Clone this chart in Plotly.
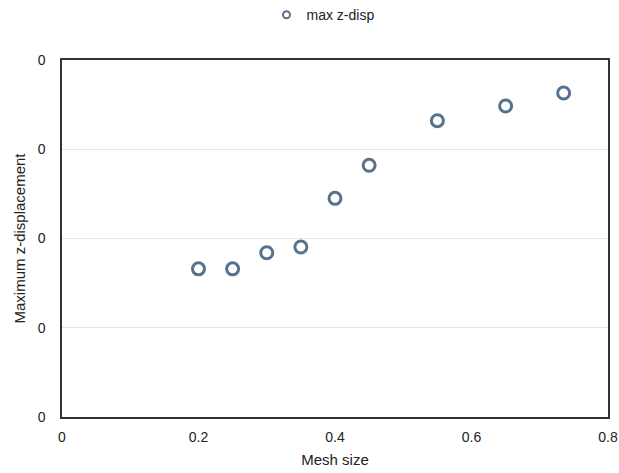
import plotly.graph_objects as go

mesh_size = [0.20, 0.25, 0.30, 0.35, 0.40, 0.45, 0.55, 0.65, 0.735]
max_z_disp = [0.166, 0.166, 0.184, 0.1905, 0.245, 0.282, 0.332, 0.3485, 0.363]
series_name = "max z-disp"
y_ticks = [0, 0.1, 0.2, 0.3, 0.4]
x_ticks = [0, 0.2, 0.4, 0.6, 0.8]

color = "#56728f"
font = "Liberation Sans, Arial, Helvetica, sans-serif"

fig = go.Figure()
fig.add_trace(go.Scatter(
    x=mesh_size, y=max_z_disp, mode="markers", name=series_name, showlegend=False,
    marker=dict(symbol="circle-open", size=12, color=color, line=dict(width=3, color=color)),
))
# legend entry with the smaller legend symbol
fig.add_trace(go.Scatter(
    x=[None], y=[None], mode="markers", name=series_name, showlegend=True,
    marker=dict(symbol="circle-open", size=7, color=color, line=dict(width=2, color=color)),
))

fig.update_layout(
    width=619, height=473,
    margin=dict(l=62, r=11, t=60, b=56, autoexpand=False),
    paper_bgcolor="white", plot_bgcolor="white",
    font=dict(family=font, size=14, color="#222"),
    showlegend=True,
    legend=dict(orientation="h", x=0.478, xanchor="center", yref="container", y=0.968, yanchor="middle",
                font=dict(size=14)),
    xaxis=dict(range=[0, 0.8], tickvals=x_ticks, ticktext=[f"{v:g}" for v in x_ticks],
               automargin=False,
               showgrid=False, zeroline=False, showline=True, linecolor="#333", linewidth=1.5,
               mirror=True, ticks="outside", ticklen=6, tickcolor="rgba(0,0,0,0)",
               title=dict(text="Mesh size", font=dict(size=15), standoff=11)),
    yaxis=dict(range=[0, 0.4], tickvals=y_ticks, tickformat=".0f", automargin=False,
               showgrid=True, gridcolor="#e6e6e6", gridwidth=1, zeroline=False,
               showline=True, linecolor="#333", linewidth=1.5, mirror=True,
               ticks="outside", ticklen=12, tickcolor="rgba(0,0,0,0)",
               title=dict(text="Maximum z-displacement", font=dict(size=15), standoff=8)),
)

fig.write_html("out.html", config={"displayModeBar": False},
               post_script="document.body.style.margin='0';document.body.style.overflow='hidden';")
